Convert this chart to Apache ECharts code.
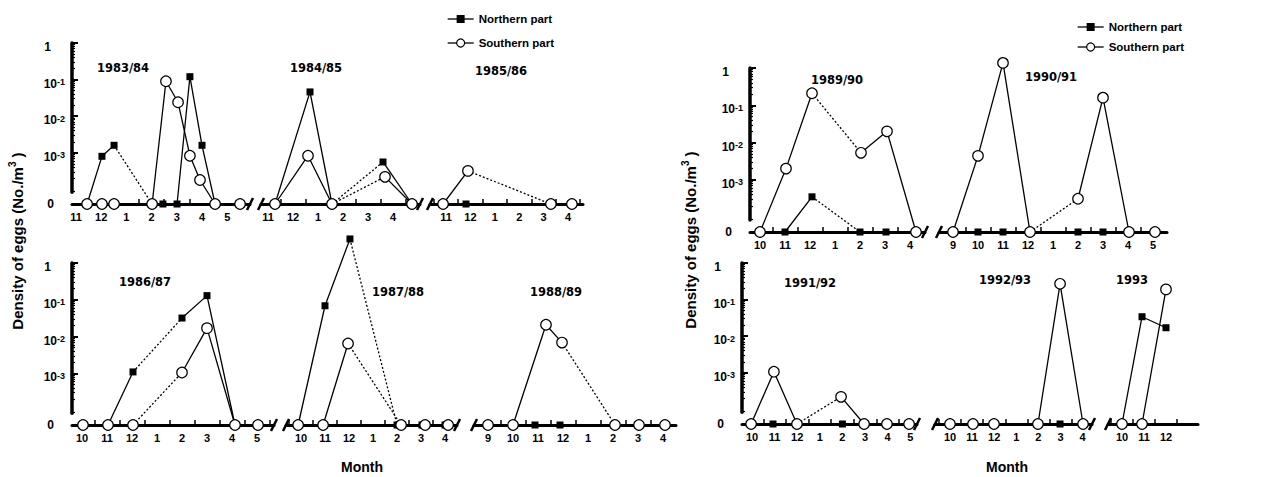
<!DOCTYPE html>
<html><head><meta charset="utf-8">
<script src="https://cdn.jsdelivr.net/npm/echarts@6/dist/echarts.min.js"></script>
<style>html,body{margin:0;padding:0;background:#fff}#c{width:1268px;height:477px}</style>
</head><body><div id="c"></div>
<script>
// Month positions: 9=Sep,10=Oct,11=Nov,12=Dec,13=Jan,14=Feb,15=Mar,16=Apr,17=May
// Values: density of eggs (No./m3); 0 = no eggs
const months_8384 = [11,12,1,2,3,4,5];
const north_8384 = [[11.44,0],[12.03,8e-4],[12.51,1.6e-3],[14.02,0],[14.45,0],[15.01,0],[15.52,0.12],[16.0,1.6e-3],[16.52,0],[17.51,0]];
const south_8384 = [[11.44,0],[12.03,0],[12.51,0],[14.02,0],[14.57,0.09],[15.05,0.024],[15.52,8.3e-4],[15.92,1.8e-4],[16.52,0],[17.51,0]];
const dotN_8384 = [2], dotS_8384 = [];

const months_8485 = [11,12,1,2,3,4];
const north_8485 = [[11.28,0],[12.68,0.046],[13.56,0],[15.6,5.6e-4],[16.76,0]];
const south_8485 = [[11.28,0],[12.6,8.3e-4],[13.56,0],[15.68,2.2e-4],[16.76,0]];
const dotN_8485 = [2], dotS_8485 = [2];

const months_8586 = [11,12,1,2,3,4];
const north_8586 = [[10.88,0],[11.82,0],[15.3,0],[16.16,0]];
const south_8586 = [[10.88,0],[11.9,3.2e-4],[15.3,0],[16.16,0]];
const dotN_8586 = [], dotS_8586 = [1];

const months_8687 = [10,11,12,1,2,3,4,5];
const north_8687 = [[10.04,0],[11.04,0],[12.04,1.1e-3],[14.0,0.032],[15.0,0.13],[16.12,0],[17.04,0]];
const south_8687 = [[10.04,0],[11.04,0],[12.04,0],[14.0,1.06e-3],[15.0,0.017],[16.12,0],[17.04,0]];
const dotN_8687 = [2], dotS_8687 = [2];

const months_8788 = [10,11,12,1,2,3,4];
const north_8788 = [[9.88,0],[11.0,0.069],[12.04,4.5],[14.0,0],[15.04,0],[16.0,0]];
const south_8788 = [[9.88,0],[10.92,0],[11.96,6.5e-3],[14.17,0],[15.17,0],[16.13,0]];
const dotN_8788 = [2], dotS_8788 = [2];

const months_8889 = [9,10,11,12,1,2,3,4];
const north_8889 = [[9,0],[10,0],[10.88,0],[11.88,0],[14.08,0],[15.04,0],[16.08,0]];
const south_8889 = [[9,0],[10,0],[11.32,0.021],[11.96,6.9e-3],[14.08,0],[15.04,0],[16.08,0]];
const dotN_8889 = [], dotS_8889 = [3];

const months_8990 = [10,11,12,1,2,3,4];
const north_8990 = [[10.0,0],[11.0,0],[12.08,3.5e-4],[14.0,0],[15.04,0],[16.24,0]];
const south_8990 = [[10.0,0],[11.04,2e-3],[12.08,0.21],[14.04,5.3e-3],[15.08,0.02],[16.24,0]];
const dotN_8990 = [2], dotS_8990 = [2];

const months_9091 = [9,10,11,12,1,2,3,4,5];
const north_9091 = [[9,0],[10,0],[11,0],[12.08,0],[14,0],[15,0],[16.04,0],[17.08,0]];
const south_9091 = [[9,0],[10,4.4e-3],[11,1.37],[12.08,0],[14,3.1e-4],[15,0.16],[16.04,0],[17.08,0]];
const dotN_9091 = [], dotS_9091 = [3];

const months_9192 = [10,11,12,1,2,3,4,5];
const north_9192 = [[9.96,0],[10.93,0],[11.99,0],[14.0,0],[14.96,0],[15.97,0],[16.95,0]];
const south_9192 = [[9.96,0],[10.97,1.07e-3],[11.99,0],[13.94,2.2e-4],[14.96,0],[15.97,0],[16.95,0]];
const dotN_9192 = [], dotS_9192 = [2];

const months_9293 = [10,11,12,1,2,3,4];
const north_9293 = [[10,0],[11.04,0],[11.99,0],[13.98,0],[14.98,0],[16.02,0]];
const south_9293 = [[10,0],[11.04,0],[11.99,0],[13.98,0],[14.98,0.27],[16.02,0]];
const dotN_9293 = [], dotS_9293 = [];

const months_93 = [10,11,12];
const north_93 = [[10,0],[10.91,0.034],[12.0,0.017]];
const south_93 = [[10,0],[10.91,0],[12.0,0.19]];
const dotN_93 = [], dotS_93 = [];

const yTickLabels = [0,-1,-2,-3]; // log10 of 1, 10^-1, 10^-2, 10^-3

// ---------- layout ----------
const B = -4.4, YEND = -4.08;
const T = v => v > 0 ? Math.log10(v) : B;
const rows = {
  L1:{yTop:43, yBase:204, axisX:72},
  R1:{yTop:68, yBase:232, axisX:750},
  L2:{yTop:263, yBase:425, axisX:72},
  R2:{yTop:263, yBase:424, axisX:742}
};
const panels = [
 {title:'1983/84', months:months_8384, north:north_8384, south:south_8384, dN:dotN_8384, dS:dotS_8384, row:'L1', p0:76, s:25.2, left:72, right:250, bL:false, bR:true, first:true, tx:123, ty:68},
 {title:'1984/85', months:months_8485, north:north_8485, south:south_8485, dN:dotN_8485, dS:dotS_8485, row:'L1', p0:268, s:25, left:261, right:420, bL:true, bR:true, tx:316, ty:68},
 {title:'1985/86', months:months_8586, north:north_8586, south:south_8586, dN:dotN_8586, dS:dotS_8586, row:'L1', p0:446, s:24.4, left:430, right:583, bL:true, bR:false, tx:501, ty:71},
 {title:'1986/87', months:months_8687, north:north_8687, south:south_8687, dN:dotN_8687, dS:dotS_8687, row:'L2', p0:82, s:25, left:72, right:274, bL:false, bR:true, first:true, tx:145, ty:282},
 {title:'1987/88', months:months_8788, north:north_8788, south:south_8788, dN:dotN_8788, dS:dotS_8788, row:'L2', p0:301, s:24, left:286, right:457, bL:true, bR:true, tx:398, ty:292},
 {title:'1988/89', months:months_8889, north:north_8889, south:south_8889, dN:dotN_8889, dS:dotS_8889, row:'L2', p0:488, s:25, left:474, right:676, bL:true, bR:false, tx:556, ty:292},
 {title:'1989/90', months:months_8990, north:north_8990, south:south_8990, dN:dotN_8990, dS:dotS_8990, row:'R1', p0:760, s:25, left:750, right:925, bL:false, bR:true, first:true, tx:837, ty:80},
 {title:'1990/91', months:months_9091, north:north_9091, south:south_9091, dN:dotN_9091, dS:dotS_9091, row:'R1', p0:953, s:25, left:939, right:1167, bL:true, bR:false, tx:1051, ty:77},
 {title:'1991/92', months:months_9192, north:north_9192, south:south_9192, dN:dotN_9192, dS:dotS_9192, row:'R2', p0:752, s:22.6, left:742, right:917, bL:false, bR:true, first:true, tx:810, ty:283},
 {title:'1992/93', months:months_9293, north:north_9293, south:south_9293, dN:dotN_9293, dS:dotS_9293, row:'R2', p0:950, s:22.1, left:935, right:1092, bL:true, bR:true, tx:1005, ty:280},
 {title:'1993', months:months_93, north:north_93, south:south_93, dN:dotN_93, dS:dotS_93, row:'R2', p0:1122, s:22, left:1108, right:1198, bL:true, bR:false, tx:1132, ty:280}
];

const FONT = 'Liberation Sans, Arial, sans-serif';
const grids = [], xAxes = [], yAxes = [], series = [], graphic = [];

const minorY = [];
for (let d = -5; d <= -1; d++) for (let k = 2; k <= 9; k++) {
  const L = d + Math.log10(k);
  if (L > YEND && L < 0) minorY.push(L);
}
const yRich = {
  n:{fontFamily:FONT, fontWeight:'bold', fontSize:12, color:'#000', lineHeight:12, verticalAlign:'bottom', padding:[0,14,0,0]},
  b:{fontFamily:FONT, fontWeight:'bold', fontSize:12, color:'#000', lineHeight:12, verticalAlign:'bottom'},
  s:{fontFamily:FONT, fontWeight:'bold', fontSize:9, color:'#000', lineHeight:9, verticalAlign:'top', padding:[0,0,8,0]}
};

Object.keys(rows).forEach(k => {
  const r = rows[k];
  const dec = (r.yBase - r.yTop) / (0 - B);
  const gi = grids.length;
  grids.push({left:r.axisX, top:r.yTop, width:20, height:(0 - YEND) * dec});
  xAxes.push({gridIndex:gi, type:'value', show:false, min:0, max:1});
  yAxes.push({gridIndex:gi, type:'value', min:YEND, max:0, position:'left', offset:0,
    axisLine:{show:true, onZero:false, lineStyle:{color:'#000', width:3.5}},
    axisTick:{show:true, customValues:yTickLabels, inside:true, length:6, lineStyle:{color:'#000', width:2}},
    axisLabel:{show:true, customValues:yTickLabels, align:'right', margin:7, padding:[8,0,0,0],
      formatter: v => Math.abs(v) < 1e-9 ? '{n|1}' : '{b|10}{s|' + Math.round(v) + '}', rich:yRich},
    splitLine:{show:false}});
  yAxes.push({gridIndex:gi, type:'value', min:YEND, max:0, position:'left', offset:0,
    axisLine:{show:false, onZero:false},
    axisTick:{show:true, customValues:minorY, inside:true, length:3, lineStyle:{color:'#000', width:1.2}},
    axisLabel:{show:false}, splitLine:{show:false}});
});

function addRuns(pts, dots, xi, yi) {
  let start = 0;
  const push = (seg, dotted) => series.push({type:'line', xAxisIndex:xi, yAxisIndex:yi, data:seg, symbol:'none',
    clip:false, silent:true, z:2, lineStyle:{color:'#000', width:1.3, type: dotted ? [2,2] : 'solid'}});
  for (let i = 0; i < pts.length - 1; i++) {
    if (dots.includes(i)) {
      if (i > start) push(pts.slice(start, i + 1), false);
      push(pts.slice(i, i + 2), true);
      start = i + 1;
    }
  }
  if (pts.length - 1 > start) push(pts.slice(start), false);
}

panels.forEach(p => {
  const r = rows[p.row];
  const m0 = p.months[0];
  const xmin = m0 + (p.left - p.p0) / p.s, xmax = m0 + (p.right - p.p0) / p.s;
  const gi = grids.length, xi = xAxes.length, yi = yAxes.length;
  grids.push({left:p.left, top:r.yTop, width:p.right - p.left, height:r.yBase - r.yTop});
  const labelVals = p.months.map((_, i) => m0 + i);
  const tickVals = [];
  for (let t = Math.ceil(xmin - 0.5) + 0.5; t < xmax - 0.1; t += 1) if (t > xmin + 0.1) tickVals.push(t);
  xAxes.push({gridIndex:gi, type:'value', min:xmin, max:xmax, position:'bottom',
    axisLine:{show:true, onZero:false, lineStyle:{color:'#000', width:3}},
    axisTick:{show:true, customValues:tickVals, inside:true, length:5, lineStyle:{color:'#000', width:1.5}},
    axisLabel:{show:true, customValues:labelVals, margin:7, fontFamily:FONT, fontWeight:'bold', fontSize:11, color:'#000',
      formatter: v => String(p.months[Math.round(v - m0)])},
    splitLine:{show:false}});
  yAxes.push({gridIndex:gi, type:'value', min:B, max:0, position:'left', offset:0,
    axisLine:{show:false}, axisTick:{show:false}, splitLine:{show:false},
    axisLabel:{show:!!p.first, customValues:[B], align:'right', margin:18, fontFamily:FONT, fontWeight:'bold', fontSize:12, color:'#000', formatter:() => '0'}});
  const nPts = p.north.map(d => [d[0], T(d[1])]);
  const sPts = p.south.map(d => [d[0], T(d[1])]);
  addRuns(nPts, p.dN, xi, yi);
  addRuns(sPts, p.dS, xi, yi);
  series.push({type:'line', name:'Northern part', xAxisIndex:xi, yAxisIndex:yi, data:nPts, symbol:'rect', symbolSize:7,
    showAllSymbol:true, clip:false, silent:true, z:3, lineStyle:{opacity:0}, itemStyle:{color:'#000'}});
  series.push({type:'line', name:'Southern part', xAxisIndex:xi, yAxisIndex:yi, data:sPts, symbol:'circle', symbolSize:10.5,
    showAllSymbol:true, clip:false, silent:true, z:4, lineStyle:{opacity:0}, itemStyle:{color:'#fff', borderColor:'#000', borderWidth:1.2}});
  graphic.push({type:'text', x:p.tx, y:p.ty, silent:true,
    style:{text:p.title, fontFamily:'DejaVu Sans', fontWeight:'bold', fontSize:11.5, fill:'#000', align:'center', verticalAlign:'middle'}});
  const slash = x => ({type:'line', silent:true, shape:{x1:x - 3, y1:r.yBase + 6, x2:x + 3, y2:r.yBase - 6}, style:{stroke:'#000', lineWidth:2.5}});
  if (p.bL) graphic.push(slash(p.left));
  if (p.bR) graphic.push(slash(p.right));
});

const yName = (x, y) => ({type:'text', x:x, y:y, rotation:Math.PI / 2, silent:true,
  style:{text:'{a|Density of eggs (No./m}{s|3}{a| )}', align:'center', verticalAlign:'middle',
    rich:{a:{fontFamily:FONT, fontWeight:'bold', fontSize:15, fill:'#000', lineHeight:17, verticalAlign:'bottom'},
          s:{fontFamily:FONT, fontWeight:'bold', fontSize:10, fill:'#000', lineHeight:10, verticalAlign:'top', padding:[0,0,8,0]}}}});
graphic.push(yName(16, 241), yName(689, 240));
graphic.push({type:'text', x:362, y:467, silent:true, style:{text:'Month', fontFamily:FONT, fontWeight:'bold', fontSize:14, fill:'#000', align:'center', verticalAlign:'middle'}});
graphic.push({type:'text', x:1007, y:467, silent:true, style:{text:'Month', fontFamily:FONT, fontWeight:'bold', fontSize:14, fill:'#000', align:'center', verticalAlign:'middle'}});

const legendBase = {orient:'vertical', selectedMode:false, itemWidth:26, itemHeight:10,
  data:['Northern part','Southern part'],
  textStyle:{fontFamily:FONT, fontWeight:'bold', fontSize:11.5, color:'#000'},
  lineStyle:{color:'#000', width:1.3, opacity:1, type:'solid'}, itemStyle:{borderWidth:1.2}};

const chart = echarts.init(document.getElementById('c'), null, {renderer:'svg'});
chart.setOption({
  animation:false,
  backgroundColor:'#fff',
  legend:[Object.assign({left:442, top:8, itemGap:12}, legendBase), Object.assign({left:1072, top:16, itemGap:8}, legendBase)],
  grid:grids, xAxis:xAxes, yAxis:yAxes, series:series, graphic:graphic
});
</script></body></html>
